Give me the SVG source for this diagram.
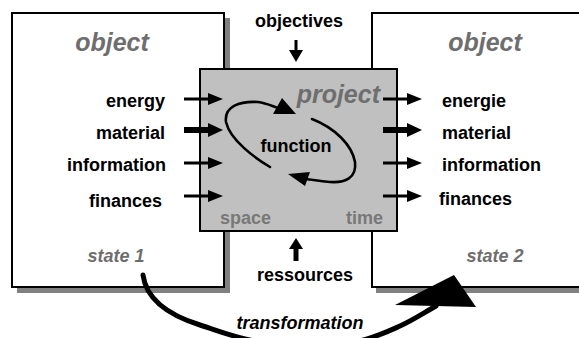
<svg xmlns="http://www.w3.org/2000/svg" width="579" height="338" viewBox="0 0 579 338">
<style>
.box{fill:#fff;stroke:#000;stroke-width:2}
.shadow{fill:#808080}
.t{font-family:"Liberation Sans",Arial,sans-serif;font-weight:bold;font-size:18px;fill:#000}
.g{fill:#6e6e6e;font-style:italic}
.gs{fill:#787878}
.big{font-size:25px}
.ar{stroke:#000;stroke-width:3;fill:none}
.arw{stroke:#000;stroke-width:6;fill:none}
.hd{fill:#000}
.loop{stroke:#000;stroke-width:2.6;fill:none;stroke-linecap:round}
</style>
<rect width="579" height="338" fill="#fff"/>
<g id="object1">
<rect class="shadow" x="17" y="18" width="213" height="275"/>
<rect class="box" x="12" y="13" width="212" height="274"/>
<text class="t g big" x="112" y="51" text-anchor="middle">object</text>
<text class="t" x="165" y="107" text-anchor="end">energy</text>
<text class="t" x="165" y="139" text-anchor="end">material</text>
<text class="t" x="166" y="171" text-anchor="end">information</text>
<text class="t" x="162" y="207" text-anchor="end">finances</text>
<text class="t g" x="116" y="262" text-anchor="middle" font-size="19.5">state 1</text>
</g>
<g id="object2">
<rect class="shadow" x="376" y="18" width="220" height="275"/>
<rect class="box" x="372" y="13" width="220" height="274"/>
<text class="t g big" x="485" y="51" text-anchor="middle">object</text>
<text class="t" x="442" y="107">energie</text>
<text class="t" x="442" y="139">material</text>
<text class="t" x="442" y="171">information</text>
<text class="t" x="439" y="205">finances</text>
<text class="t g" x="495" y="262" text-anchor="middle" font-size="19.5">state 2</text>
</g>
<g id="project">
<rect x="200" y="69" width="197" height="162" fill="#c0c0c0" stroke="#000" stroke-width="2"/>
<text class="t g big" x="380" y="103" text-anchor="end">project</text>
<text class="t" x="296" y="152" text-anchor="middle">function</text>
<text class="t gs" x="220" y="224">space</text>
<text class="t gs" x="383" y="224" text-anchor="end">time</text>
</g>
<g id="objectives">
<text class="t" x="299" y="27" text-anchor="middle">objectives</text>
</g>
<g id="ressources">
<text class="t" x="305" y="281" text-anchor="middle">ressources</text>
</g>
<g id="transformation-label">
<text class="t" x="300" y="329" text-anchor="middle" fill="#555" font-style="italic">transformation</text>
</g>
<g id="connectors">
<line class="ar" x1="184" y1="99" x2="210" y2="99"/><polygon class="hd" points="208,93 223,99 208,105"/>
<line class="arw" x1="184" y1="130" x2="210" y2="130"/><polygon class="hd" points="208,123 223,130 208,137"/>
<line class="ar" x1="184" y1="163" x2="210" y2="163"/><polygon class="hd" points="208,157 223,163 208,169"/>
<line class="ar" x1="184" y1="196" x2="210" y2="196"/><polygon class="hd" points="208,190 223,196 208,202"/>
<line class="ar" x1="383" y1="99" x2="409" y2="99"/><polygon class="hd" points="407,93 422,99 407,105"/>
<line class="arw" x1="383" y1="130" x2="409" y2="130"/><polygon class="hd" points="407,123 422,130 407,137"/>
<line class="ar" x1="383" y1="163" x2="409" y2="163"/><polygon class="hd" points="407,157 422,163 407,169"/>
<line class="ar" x1="383" y1="196" x2="409" y2="196"/><polygon class="hd" points="407,190 422,196 407,202"/>
<line x1="296" y1="40" x2="296" y2="52" stroke="#000" stroke-width="3"/>
<polygon class="hd" points="289,50 303,50 296,62"/>
<line x1="296" y1="247" x2="296" y2="261" stroke="#000" stroke-width="5"/>
<polygon class="hd" points="289,249 303,249 296,238"/>
<path class="loop" d="M270,167 C255,158 230,140 226,122 C224,106 240,101 258,102 C266,103 272,106 278,108"/>
<polygon class="hd" points="273,114 282,98 296,114"/>
<path class="loop" d="M312,119 C335,128 352,145 355,162 C357,178 345,183 330,182 C320,181 314,180 306,179"/>
<polygon class="hd" points="288,174 310,172 305,186"/>
<path d="M143,275 C146,298 165,314 200,325 C240,338 250,345 320,345 C360,345 380,335 400,326 C415,319 425,312 436,306" fill="none" stroke="#000" stroke-width="5" stroke-linecap="round"/>
<polygon class="hd" points="454,275 476,307 395,305"/>
</g>
</svg>
